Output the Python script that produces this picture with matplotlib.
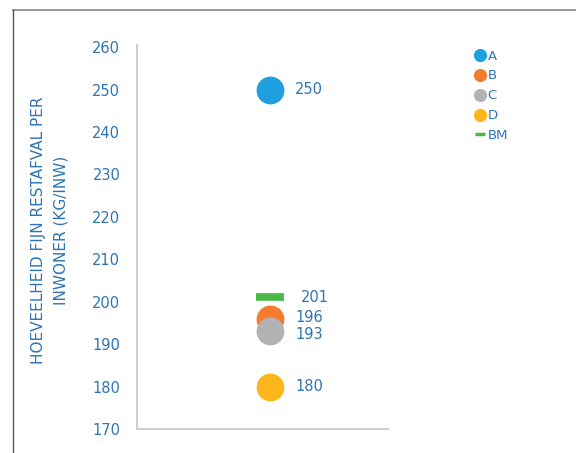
import matplotlib.pyplot as plt
from matplotlib.lines import Line2D

labels = ['A', 'B', 'C', 'D']
values = [250, 196, 193, 180]
colors = ['#1f9ee0', '#f47b30', '#b3b3b6', '#fdb71b']
bm_value = 201
bm_color = '#4cb848'
txt_color = '#2e75b6'

fig = plt.figure(figsize=(5.76, 4.53), dpi=100)
ax = fig.add_axes([137 / 576, 1 - 429 / 453, (388 - 137) / 576, (429 - 45) / 453])

xpos = 1.0
# small vertical nudges (points) so close labels don't collide, like the original
nudge = {'B': 1, 'C': -2}
for lab, v, c in zip(labels, values, colors):
    ax.plot(xpos, v, 'o', ms=19, color=c, mec=c, label=lab, zorder=3)
    ax.annotate(str(v), (xpos, v), xytext=(18, nudge.get(lab, 0)), textcoords='offset points',
                color=txt_color, fontsize=10.5, va='center', ha='left')

ax.plot(xpos, bm_value, '_', ms=20, mew=5.5, color=bm_color, label='BM', zorder=2)
ax.annotate(str(bm_value), (xpos, bm_value), xytext=(22, 0), textcoords='offset points',
            color=txt_color, fontsize=10.5, va='center', ha='left')

ax.set_xlim(0.47, 1.47)
ax.set_ylim(170, 260.5)
ax.set_yticks(range(170, 261, 10))
ax.set_xticks([])
ax.tick_params(axis='y', length=0, pad=12, labelsize=10.5, labelcolor=txt_color)
for s in ['top', 'right']:
    ax.spines[s].set_visible(False)
for s in ['left', 'bottom']:
    ax.spines[s].set_color('#d0d0d0')
    ax.spines[s].set_linewidth(1.5)

fig.text(50 / 576, 1 - 230 / 453, 'HOEVEELHEID FIJN RESTAFVAL PER\nINWONER (KG/INW)',
         rotation=90, ha='center', va='center', color=txt_color, fontsize=11,
         linespacing=1.6)

handles = [Line2D([], [], ls='', marker='o', ms=8.5, color=c) for c in colors]
handles.append(Line2D([], [], ls='', marker='_', ms=7, mew=2.5, color=bm_color))
fig.legend(handles, labels + ['BM'], loc='upper left', bbox_to_anchor=(469 / 576, 1 - 43 / 453),
           frameon=False, fontsize=9.5, labelcolor=txt_color, handlelength=0.6,
           handletextpad=0.3, labelspacing=0.52, borderpad=0)

# outer frame lines (top and left)
fig.add_artist(Line2D([12.5 / 576, 1], [1 - 9.5 / 453] * 2, color='#888888', lw=1.2))
fig.add_artist(Line2D([12.5 / 576] * 2, [0, 1 - 9.5 / 453], color='#555555', lw=1.0))

fig.savefig('out.png', dpi=100)
